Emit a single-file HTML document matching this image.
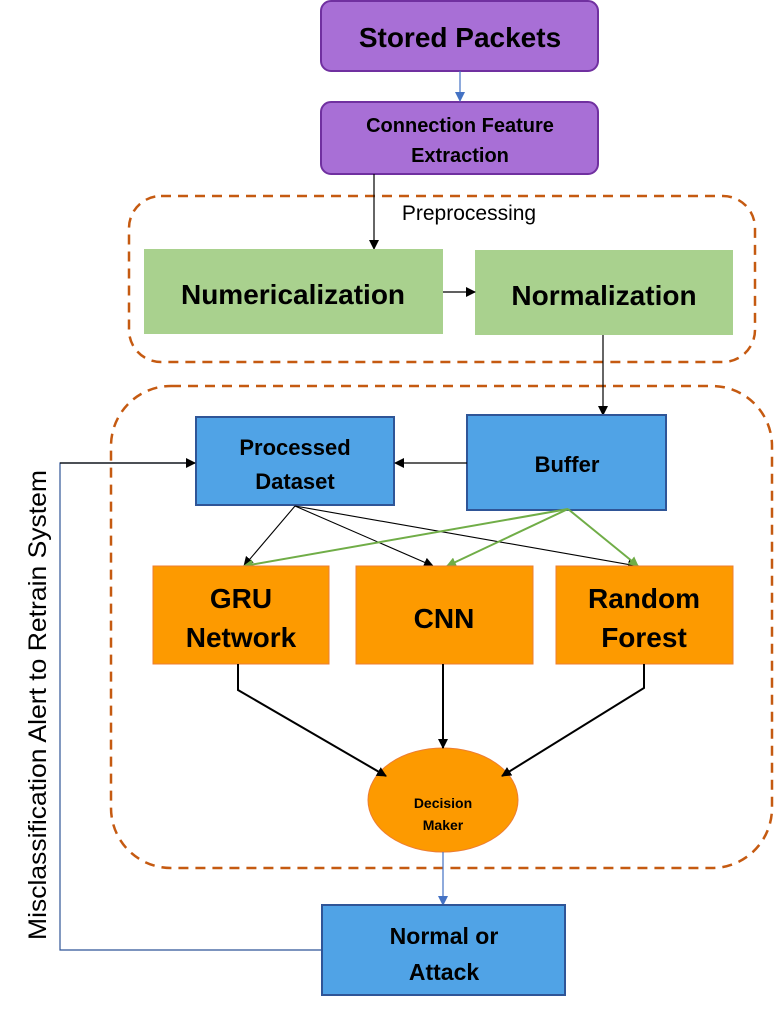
<!DOCTYPE html>
<html><head><meta charset="utf-8"><style>
body{margin:0;background:#fff;}
svg text{font-family:"Liberation Sans",sans-serif;font-weight:bold;fill:#000;text-anchor:middle;}
</style></head><body>
<svg width="774" height="1006" viewBox="0 0 774 1006" xmlns="http://www.w3.org/2000/svg">
<defs>
<marker id="ak" markerWidth="10" markerHeight="10" refX="9" refY="5" orient="auto" markerUnits="userSpaceOnUse"><path d="M0,0 L10,5 L0,10 z" fill="#000"/></marker>
<marker id="ab" markerWidth="10" markerHeight="10" refX="9" refY="5" orient="auto" markerUnits="userSpaceOnUse"><path d="M0,0 L10,5 L0,10 z" fill="#4472c4"/></marker>
<marker id="ag" markerWidth="10" markerHeight="10" refX="9" refY="5" orient="auto" markerUnits="userSpaceOnUse"><path d="M0,0 L10,5 L0,10 z" fill="#70ad47"/></marker>
</defs>
<rect x="129" y="196" width="626" height="166" rx="32" fill="none" stroke="#c55a11" stroke-width="2.5" stroke-dasharray="10,7"/>
<rect x="111" y="386" width="661" height="482" rx="60" fill="none" stroke="#c55a11" stroke-width="2.5" stroke-dasharray="10,7"/>
<rect x="321" y="1" width="277" height="70" rx="10" fill="#a86fd6" stroke="#7030a0" stroke-width="2"/>
<text x="460" y="47" font-size="28">Stored Packets</text>
<rect x="321" y="102" width="277" height="72" rx="10" fill="#a86fd6" stroke="#7030a0" stroke-width="2"/>
<text x="460" y="132" font-size="20">Connection Feature</text>
<text x="460" y="162" font-size="20">Extraction</text>
<line x1="460" y1="71" x2="460" y2="101" stroke="#4472c4" stroke-width="1.2" marker-end="url(#ab)"/>
<text x="469" y="220" font-size="21" style="font-weight:normal">Preprocessing</text>
<line x1="374" y1="174" x2="374" y2="249" stroke="#000" stroke-width="1.2" marker-end="url(#ak)"/>
<rect x="144" y="249" width="299" height="85" fill="#a9d18e"/>
<text x="293" y="304" font-size="28">Numericalization</text>
<rect x="475" y="250" width="258" height="85" fill="#a9d18e"/>
<text x="604" y="305" font-size="28">Normalization</text>
<line x1="443" y1="292" x2="475" y2="292" stroke="#000" stroke-width="1.2" marker-end="url(#ak)"/>
<line x1="603" y1="335" x2="603" y2="415" stroke="#000" stroke-width="1.2" marker-end="url(#ak)"/>
<rect x="196" y="417" width="198" height="88" fill="#50a3e6" stroke="#2f5597" stroke-width="2"/>
<text x="295" y="455" font-size="22">Processed</text>
<text x="295" y="489" font-size="22">Dataset</text>
<rect x="467" y="415" width="199" height="95" fill="#50a3e6" stroke="#2f5597" stroke-width="2"/>
<text x="567" y="472" font-size="22">Buffer</text>
<line x1="467" y1="463" x2="395" y2="463" stroke="#000" stroke-width="1.2" marker-end="url(#ak)"/>
<g stroke="#000" stroke-width="1.1">
<line x1="295" y1="506" x2="244" y2="566" marker-end="url(#ak)"/>
<line x1="295" y1="506" x2="433" y2="566" marker-end="url(#ak)"/>
<line x1="295" y1="506" x2="637" y2="566" marker-end="url(#ak)"/>
</g>
<g stroke="#70ad47" stroke-width="2">
<line x1="568" y1="509" x2="244" y2="566" marker-end="url(#ag)"/>
<line x1="568" y1="509" x2="447" y2="566" marker-end="url(#ag)"/>
<line x1="568" y1="509" x2="638" y2="566" marker-end="url(#ag)"/>
</g>
<rect x="153" y="566" width="176" height="98" fill="#fd9a00" stroke="#ed7d31" stroke-width="1"/>
<text x="241" y="608" font-size="28">GRU</text>
<text x="241" y="647" font-size="28">Network</text>
<rect x="356" y="566" width="177" height="98" fill="#fd9a00" stroke="#ed7d31" stroke-width="1"/>
<text x="444" y="628" font-size="28">CNN</text>
<rect x="556" y="566" width="177" height="98" fill="#fd9a00" stroke="#ed7d31" stroke-width="1"/>
<text x="644" y="608" font-size="28">Random</text>
<text x="644" y="647" font-size="28">Forest</text>
<ellipse cx="443" cy="800" rx="75" ry="52" fill="#fd9a00" stroke="#ed7d31" stroke-width="1"/>
<g stroke="#000" stroke-width="2" fill="none">
<polyline points="238,664 238,690 386,776" marker-end="url(#ak)"/>
<line x1="443" y1="664" x2="443" y2="748" marker-end="url(#ak)"/>
<polyline points="644,664 644,688 502,776" marker-end="url(#ak)"/>
</g>
<text x="443" y="808" font-size="14">Decision</text>
<text x="443" y="830" font-size="14">Maker</text>
<line x1="443" y1="852" x2="443" y2="905" stroke="#4472c4" stroke-width="1.2" marker-end="url(#ab)"/>
<rect x="322" y="905" width="243" height="90" fill="#50a3e6" stroke="#2f5597" stroke-width="2"/>
<text x="444" y="944" font-size="23">Normal or</text>
<text x="444" y="980" font-size="23">Attack</text>
<polyline points="322,950 60,950 60,463 195,463" fill="none" stroke="#2f5597" stroke-width="1.2"/>
<line x1="60" y1="463" x2="195" y2="463" stroke="#000" stroke-width="1.2" marker-end="url(#ak)"/>
<text transform="translate(37,705) rotate(-90)" font-size="25" style="font-weight:normal" dy="9" textLength="470" lengthAdjust="spacingAndGlyphs">Misclassification Alert to Retrain System</text>
</svg>
</body></html>
